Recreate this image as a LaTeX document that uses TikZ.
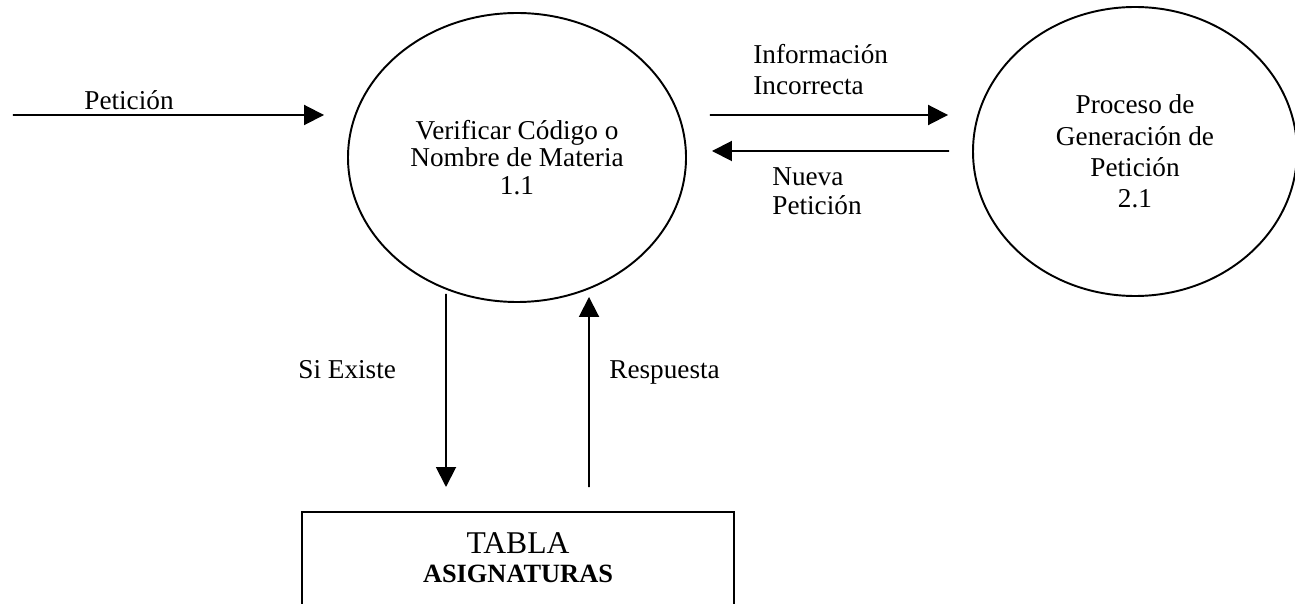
\documentclass[tikz,border=0pt]{standalone}
\usepackage{fontspec}
\setmainfont{Liberation Serif}
\usetikzlibrary{shapes.geometric, arrows.meta, positioning}

\begin{document}
\begin{tikzpicture}[
    proceso/.style={draw, ellipse, line width=1.1pt, inner sep=0pt, align=center},
    almacen/.style={draw, line width=1.1pt, inner ysep=0pt, align=center},
    flujo/.style={line width=1.1pt, -{Triangle[length=0.4cm,width=0.4cm]}},
    etiqueta/.style={inner sep=0pt, align=left, font=\fontsize{15.5}{17.5}\selectfont}]
  \clip (0,0) rectangle (25.9,12.06);
  % procesos
  \node[proceso, minimum width=6.76cm, minimum height=5.78cm,
        font=\fontsize{15.5}{15.5}\selectfont] (verif) at (10.34,8.91)
        {Verificar Código o\\Nombre de Materia\\1.1};
  \node[proceso, minimum width=6.48cm, minimum height=5.78cm,
        font=\fontsize{15.5}{17.8}\selectfont] (gener) at (22.7,9.03)
        {Proceso de\\Generación de\\Petición\\2.1};
  % almacen de datos
  \node[almacen, anchor=north, minimum width=8.64cm, text height=1.42cm, text depth=0.8cm,
        font=\fontsize{18}{17}\selectfont] (tabla) at (10.36,1.84)
        {TABLA\\{\fontsize{15}{17}\selectfont\bfseries ASIGNATURAS}};
  % flujos
  \coordinate (entrada) at (0.26,9.76);
  \draw[flujo] (entrada) -- ([shift={(-0.46,0.85)}]verif.west);
  \draw[flujo] ([shift={(0.46,0.85)}]verif.east) -- ([shift={(-0.48,0.73)}]gener.west);
  \draw[flujo] ([shift={(-0.46,0.01)}]gener.west) -- ([shift={(0.5,0.13)}]verif.east);
  \draw[flujo] ([shift={(-1.42,0.18)}]verif.south) -- ([shift={(-1.44,0.48)}]tabla.north);
  \draw[flujo] ([shift={(1.42,0.48)}]tabla.north) -- ([shift={(1.44,0.12)}]verif.south);
  % etiquetas
  \node[etiqueta, anchor=base] (l-pet) at (2.58,9.86) {Petición};
  \node[etiqueta, anchor=base west, font=\fontsize{15.5}{18.2}\selectfont] (l-info) at (15.06,10.16)
        {Información\\Incorrecta};
  \node[etiqueta, anchor=base west, font=\fontsize{15.5}{17}\selectfont] (l-nueva) at (15.44,7.76)
        {Nueva\\Petición};
  \node[etiqueta, anchor=base west] (l-si) at (5.96,4.5) {Si Existe};
  \node[etiqueta, anchor=base west] (l-resp) at (12.18,4.5) {Respuesta};
\end{tikzpicture}
\end{document}
